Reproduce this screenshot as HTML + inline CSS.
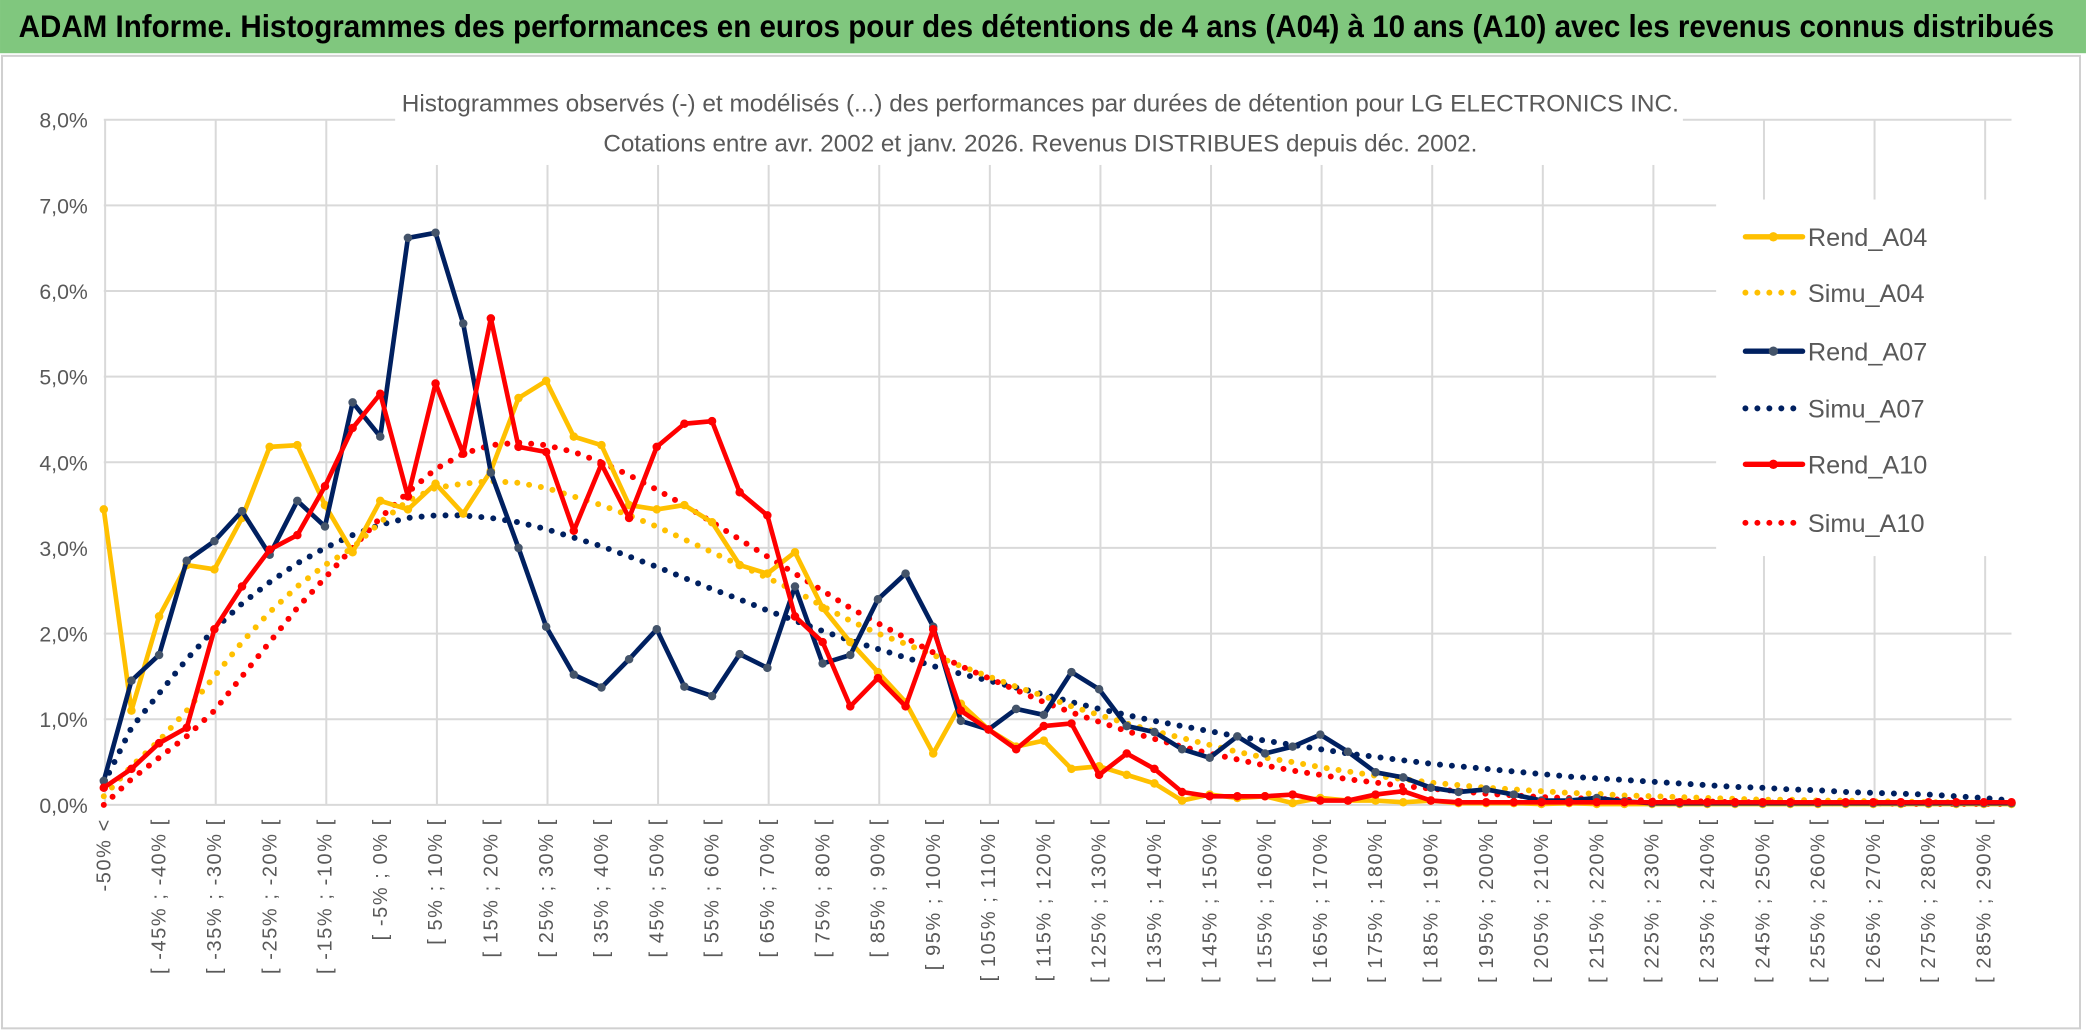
<!DOCTYPE html>
<html><head><meta charset="utf-8">
<style>
html,body{margin:0;padding:0;background:#fff;}
svg{display:block;}
text{font-family:"Liberation Sans Narrow","Liberation Sans",sans-serif;}
</style></head>
<body>
<svg id="chart" width="2086" height="1033" viewBox="0 0 1568 776.5" xmlns="http://www.w3.org/2000/svg">
  <rect x="0" y="0" width="1568" height="776.5" fill="#fff"/>
  <rect x="0" y="0" width="1568" height="40" fill="#80c77e"/>
  <text x="14" y="28" font-size="24" font-weight="bold" fill="#000" textLength="1530" lengthAdjust="spacingAndGlyphs">ADAM Informe. Histogrammes des performances en euros pour des détentions de 4 ans (A04) à 10 ans (A10) avec les revenus connus distribués</text>
  <rect x="1.5" y="42" width="1562" height="731" fill="none" stroke="#d0d0d0" stroke-width="1.5"/>
  <g id="grid"></g>
  <rect x="297" y="64" width="968" height="60" fill="#fff"/>
  <text x="782" y="84" font-size="18" fill="#595959" text-anchor="middle" textLength="960" lengthAdjust="spacingAndGlyphs">Histogrammes observés (-) et modélisés (...) des performances par durées de détention pour LG ELECTRONICS INC.</text>
  <text x="782" y="114" font-size="18" fill="#595959" text-anchor="middle" textLength="657" lengthAdjust="spacingAndGlyphs">Cotations entre avr. 2002 et janv. 2026. Revenus DISTRIBUES depuis déc. 2002.</text>
  <g id="series"></g>
  <rect x="1290" y="150" width="255" height="268" fill="#fff"/>
  <g id="legend"></g>
</svg>
<script>
const categories = (function(){const c=["-50% <"];for(let k=1;k<70;k++){c.push("[ "+(-55+5*k)+"% ; "+(-50+5*k)+"% [");}return c;})();
const yTicks = [0,1,2,3,4,5,6,7,8];
const yTickLabels = ["0,0%","1,0%","2,0%","3,0%","4,0%","5,0%","6,0%","7,0%","8,0%"];
const rendA04 = [3.45,1.1,2.2,2.8,2.75,3.35,4.18,4.2,3.5,2.95,3.55,3.45,3.75,3.4,3.9,4.75,4.95,4.3,4.2,3.5,3.45,3.5,3.3,2.8,2.7,2.95,2.3,1.9,1.55,1.2,0.6,1.18,0.88,0.68,0.75,0.42,0.45,0.35,0.25,0.05,0.12,0.08,0.1,0.02,0.08,0.05,0.05,0.03,0.05,0.02,0.02,0.02,0.01,0.02,0.01,0.01,0.01,0.01,0.01,0.01,0.01,0.01,0.01,0.01,0.01,0.01,0.01,0.01,0.01,0.01];
const simuA04 = [0.1,0.45,0.75,1.1,1.5,1.9,2.25,2.55,2.8,3.0,3.3,3.55,3.7,3.75,3.78,3.76,3.7,3.6,3.5,3.38,3.25,3.1,2.95,2.8,2.65,2.5,2.32,2.15,2.0,1.88,1.75,1.62,1.5,1.38,1.27,1.15,1.05,0.95,0.86,0.78,0.7,0.62,0.55,0.5,0.44,0.39,0.34,0.3,0.26,0.23,0.2,0.18,0.16,0.14,0.13,0.11,0.1,0.09,0.08,0.07,0.06,0.06,0.05,0.05,0.04,0.04,0.03,0.03,0.02,0.02];
const rendA07 = [0.28,1.45,1.75,2.85,3.08,3.43,2.92,3.55,3.25,4.7,4.3,6.62,6.68,5.62,3.88,3.0,2.08,1.52,1.37,1.7,2.05,1.38,1.27,1.76,1.6,2.55,1.65,1.75,2.4,2.7,2.08,0.98,0.88,1.12,1.05,1.55,1.35,0.92,0.85,0.65,0.55,0.8,0.6,0.68,0.82,0.62,0.38,0.32,0.2,0.15,0.18,0.12,0.05,0.05,0.08,0.04,0.02,0.02,0.02,0.02,0.02,0.02,0.02,0.02,0.02,0.02,0.02,0.02,0.02,0.02];
const simuA07 = [0.25,0.9,1.3,1.7,2.05,2.35,2.6,2.82,3.0,3.15,3.27,3.35,3.38,3.38,3.35,3.3,3.22,3.12,3.02,2.9,2.78,2.65,2.52,2.4,2.27,2.15,2.03,1.92,1.82,1.72,1.62,1.53,1.45,1.37,1.29,1.2,1.12,1.05,0.98,0.92,0.86,0.8,0.75,0.7,0.65,0.6,0.56,0.52,0.48,0.45,0.42,0.39,0.36,0.33,0.31,0.29,0.27,0.25,0.23,0.21,0.2,0.18,0.17,0.15,0.14,0.13,0.12,0.1,0.08,0.05];
const rendA10 = [0.2,0.42,0.72,0.9,2.05,2.55,2.98,3.15,3.72,4.4,4.8,3.6,4.92,4.1,5.68,4.18,4.12,3.2,3.98,3.35,4.18,4.45,4.48,3.65,3.38,2.2,1.9,1.15,1.48,1.15,2.05,1.1,0.88,0.65,0.92,0.95,0.35,0.6,0.42,0.15,0.1,0.1,0.1,0.12,0.05,0.05,0.12,0.16,0.05,0.03,0.03,0.03,0.03,0.03,0.03,0.03,0.03,0.03,0.03,0.03,0.03,0.03,0.03,0.03,0.03,0.03,0.03,0.03,0.03,0.03];
const simuA10 = [0.0,0.3,0.55,0.8,1.1,1.5,1.9,2.3,2.65,3.0,3.35,3.65,3.92,4.1,4.2,4.23,4.2,4.12,4.0,3.85,3.68,3.5,3.3,3.1,2.9,2.7,2.5,2.3,2.12,1.95,1.78,1.62,1.48,1.34,1.2,1.08,0.97,0.86,0.77,0.68,0.6,0.53,0.46,0.4,0.35,0.3,0.26,0.22,0.19,0.16,0.13,0.11,0.09,0.08,0.07,0.06,0.05,0.04,0.04,0.03,0.03,0.02,0.02,0.02,0.02,0.01,0.01,0.01,0.01,0.01];

const NS="http://www.w3.org/2000/svg";
const X0=78, X1=1512, Y0=605, YTOP=90, YMAX=8;
function xScale(i){return X0+(X1-X0)*i/(categories.length-1);}
function yScale(v){return Y0-(Y0-YTOP)*v/YMAX;}
function mk(tag,attrs,parent){const e=document.createElementNS(NS,tag);for(const k in attrs)e.setAttribute(k,attrs[k]);parent.appendChild(e);return e;}

const grid=document.getElementById('grid');
yTicks.forEach((t,j)=>{
  const l=mk('line',{x1:X0,x2:X1,y1:yScale(t),y2:yScale(t),stroke:'#d9d9d9','stroke-width':1.5},grid);
  
  
  const tx=mk('text',{x:66,y:yScale(t)+6,'font-size':16,fill:'#595959','text-anchor':'end'},grid);
  tx.textContent=yTickLabels[j];
  
  
});
for(let i=0;i<categories.length;i+=4){
  const l=mk('line',{x1:xScale(i)+1,x2:xScale(i)+1,y1:YTOP,y2:Y0,stroke:'#d9d9d9','stroke-width':1.5},grid);
  
  
}
for(let i=0;i<categories.length;i+=2){
  const x=xScale(i)+5, y=615;
  const tx=mk('text',{x:x,y:y,'font-size':15,fill:'#595959','text-anchor':'end','letter-spacing':'1.2',transform:'rotate(-90 '+x+' '+y+')'},grid);
  tx.textContent=categories[i];
  
  
}

const seriesG=document.getElementById('series');
function draw(data,color,dotted,name,marker){
  const pts=data.map((v,i)=>xScale(i).toFixed(2)+','+yScale(v).toFixed(2)).join(' ');
  const attrs={points:pts,fill:'none',stroke:color,'stroke-width':dotted?4.5:3.5,'stroke-linejoin':'round','stroke-linecap':'round'};
  if(dotted)attrs['stroke-dasharray']='0 9';
  const p=mk('polyline',attrs,seriesG);
  
  
  if(!dotted){
    data.forEach((v,i)=>{
      const c=mk('circle',{cx:xScale(i),cy:yScale(v),r:3.2,fill:marker},seriesG);
      
      
    });
  }
}
draw(simuA07,'#002060',true,'simu-a07-line');
draw(simuA04,'#ffc000',true,'simu-a04-line');
draw(simuA10,'#ff0000',true,'simu-a10-line');
draw(rendA04,'#ffc000',false,'rend-a04-line','#ffc000');
draw(rendA07,'#002060',false,'rend-a07-line','#44546a');
draw(rendA10,'#ff0000',false,'rend-a10-line','#ff0000');

const legendItems=[["Rend_A04","#ffc000",false],["Simu_A04","#ffc000",true],["Rend_A07","#002060",false],["Simu_A07","#002060",true],["Rend_A10","#ff0000",false],["Simu_A10","#ff0000",true]];
const legendY=[178,220,264,307,349,393];
const lg=document.getElementById('legend');
legendItems.forEach((it,j)=>{
  const y=legendY[j];
  const a={x1:1312,x2:1355,y1:y,y2:y,stroke:it[1],'stroke-width':it[2]?4.5:4,'stroke-linecap':'round'};
  if(it[2])a['stroke-dasharray']='0 9';
  const l=mk('line',a,lg);
  
  
  if(!it[2]){const c=mk('circle',{cx:1333,cy:y,r:3.5,fill:it[1]==='#002060'?'#44546a':it[1]},lg);
    
    }
  const t=mk('text',{x:1359,y:y+7,'font-size':19,fill:'#595959'},lg);
  t.textContent=it[0];
  
  
});
</script>
</body></html>
